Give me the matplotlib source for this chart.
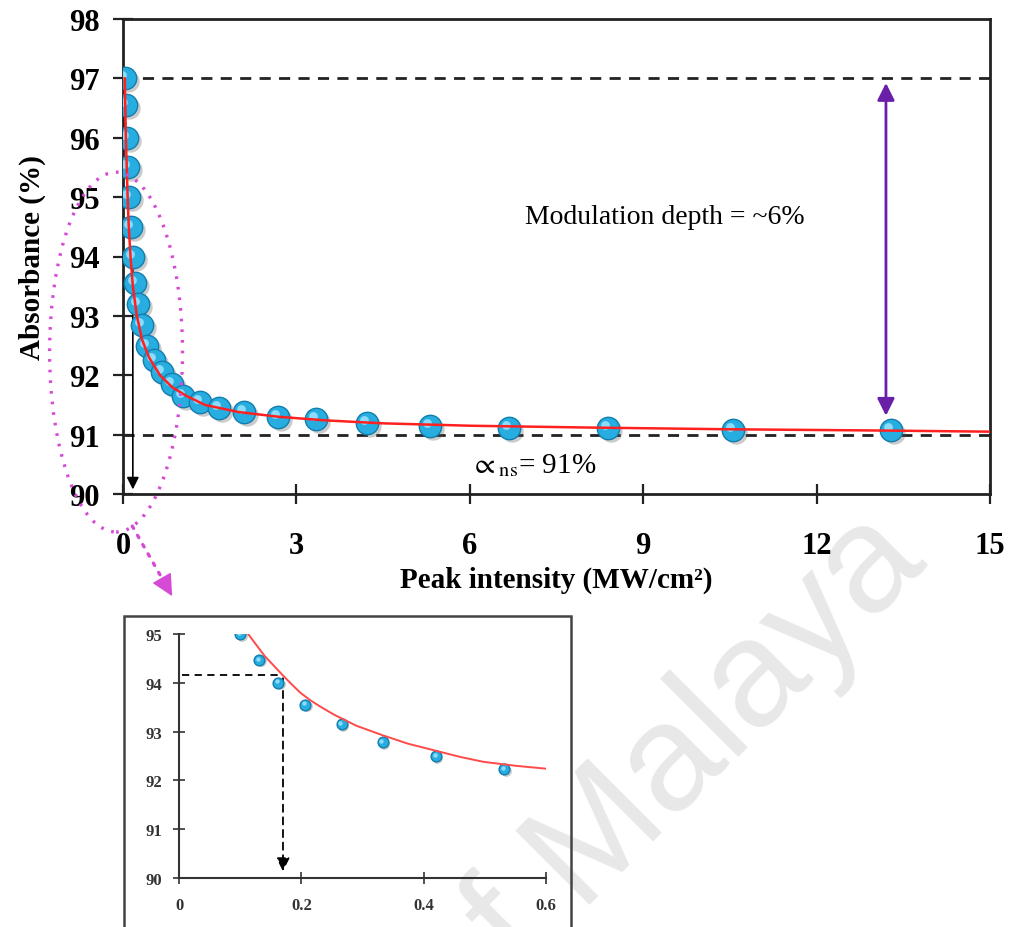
import matplotlib
matplotlib.use("Agg")
import matplotlib.pyplot as plt
from matplotlib.patches import Ellipse, Rectangle
from matplotlib.transforms import offset_copy

plt.rcParams['mathtext.fontset'] = 'stix'

# ---------------- data ----------------
intensity = [0.04, 0.05, 0.063, 0.08, 0.10, 0.13, 0.165, 0.21, 0.265, 0.33, 0.42, 0.53,
             0.67, 0.85, 1.04, 1.33, 1.66, 2.09, 2.68, 3.34, 4.22, 5.31, 6.68, 8.39,
             10.55, 13.29]
absorbance = [97.0, 96.55, 96.0, 95.5, 95.0, 94.5, 94.0, 93.55, 93.2, 92.85, 92.5, 92.25,
              92.05, 91.85, 91.65, 91.55, 91.45, 91.38, 91.3, 91.27, 91.2, 91.15, 91.12, 91.12,
              91.08, 91.07]

fit_x = [0.03, 0.04, 0.05, 0.065, 0.08, 0.10, 0.13, 0.17, 0.24, 0.33, 0.45, 0.64, 0.85,
         1.1, 1.42, 2.0, 2.7, 3.5, 4.5, 6.0, 8.0, 10.5, 13.0, 15.0]
fit_y = [97.0, 96.5, 96.0, 95.5, 95.0, 94.5, 94.0, 93.5, 93.0, 92.6, 92.3, 92.0, 91.8,
         91.65, 91.5, 91.38, 91.3, 91.24, 91.19, 91.15, 91.12, 91.09, 91.07, 91.05]

inset_x = [0.10, 0.131, 0.1625, 0.206, 0.266, 0.333, 0.42, 0.532]
inset_y = [95.0, 94.47, 94.0, 93.55, 93.15, 92.78, 92.5, 92.23]
inset_fit_x = [0.113, 0.125, 0.14, 0.155, 0.17, 0.185, 0.198, 0.215, 0.23, 0.253, 0.29,
               0.334, 0.375, 0.416, 0.46, 0.498, 0.55, 0.6]
inset_fit_y = [95.0, 94.8, 94.55, 94.35, 94.15, 93.96, 93.8, 93.64, 93.52, 93.35, 93.12,
               92.92, 92.75, 92.62, 92.48, 92.38, 92.3, 92.24]

alpha_ns = 91.0
alpha_top = 97.0
I_sat = 0.17
I_sat_level = 94.15

main_xticks = [0, 3, 6, 9, 12, 15]
main_yticks = [90, 91, 92, 93, 94, 95, 96, 97, 98]
inset_xticks = [0, 0.2, 0.4, 0.6]
inset_xticklabels = ['0', '0.2', '0.4', '0.6']
inset_yticks = [90, 91, 92, 93, 94, 95]

# ---------------- figure ----------------
W, H = 1017, 928
fig = plt.figure(figsize=(W / 100, H / 100), dpi=100)

SERIF = ['Liberation Serif', 'DejaVu Serif']

# watermark
fig.text(668 / W, 1 - 772 / H, 'of Malaya', rotation=45, rotation_mode='anchor',
         ha='center', va='center', fontsize=110, color='#e8e8e8',
         family=['Liberation Sans', 'DejaVu Sans'], zorder=-5)


def spheres(ax, x, y, s, shadow_off, hl_off, hl_s):
    sh = offset_copy(ax.transData, fig=fig, x=shadow_off, y=-shadow_off, units='dots')
    ax.scatter(x, y, s=s, color='#555555', alpha=0.3, linewidths=0, transform=sh, zorder=3)
    ax.scatter(x, y, s=s, color='#28ade0', edgecolors='#127eae', linewidths=1.0, zorder=4)
    hl = offset_copy(ax.transData, fig=fig, x=-hl_off, y=hl_off, units='dots')
    ax.scatter(x, y, s=hl_s, color='#9fe4ff', alpha=0.85, linewidths=0, transform=hl, zorder=5)


# ---------------- main axes ----------------
ax = fig.add_axes([123 / W, 1 - 495 / H, 867 / W, 475 / H])
ax.set_facecolor('none')
ax.set_xlim(0, 15)
ax.set_ylim(90, 98)

ax.axhline(alpha_top, color='#222222', lw=2, ls=(0, (4, 3)), zorder=2)
ax.axhline(alpha_ns, color='#222222', lw=2, ls=(0, (4, 3)), zorder=2)

ax.annotate('', xy=(I_sat, 90.03), xytext=(I_sat, 94.0),
            arrowprops=dict(arrowstyle='-|>', color='black', lw=1.2, mutation_scale=18),
            zorder=2)

ax.plot(fit_x, fit_y, color='#ff2020', lw=1.8, zorder=6)
spheres(ax, intensity, absorbance, 260, 3, 3, 40)

ax.annotate('', xy=(13.2, alpha_top - 0.03), xytext=(13.2, 91.27),
            arrowprops=dict(arrowstyle='<|-|>', color='#6a1fa8', lw=2, mutation_scale=26),
            zorder=7)

ax.text(6.95, 94.68, 'Modulation depth = ~6%', fontsize=20, family=SERIF,
        ha='left', va='center')
ax.text(6.0, 90.5, r'$\propto_{\mathrm{ns}}$= 91%', fontsize=21, family=SERIF,
        ha='left', va='center')

for sp in ax.spines.values():
    sp.set_linewidth(2)
    sp.set_color('#222222')

ax.set_xticks(main_xticks)
ax.set_yticks(main_yticks)
ax.tick_params(axis='both', direction='inout', length=14, width=1.6, color='#222222')
ax.tick_params(axis='x', pad=20)
ax.tick_params(axis='y', pad=10)
for lab in ax.get_xticklabels() + ax.get_yticklabels():
    lab.set_fontfamily(SERIF)
    lab.set_fontweight('bold')
    lab.set_fontsize(22)

ax.set_xlabel('Peak intensity (MW/cm²)', fontsize=21, fontweight='bold', family=SERIF,
              labelpad=4)
ax.set_ylabel('Absorbance (%)', fontsize=21, fontweight='bold', family=SERIF, labelpad=16)

# magenta dotted ellipse and arrow
MAG = '#d54bd5'
ell = Ellipse((-0.12, 92.39), 2.30, 6.06, fill=False, edgecolor=MAG, lw=2.4,
              ls=(0, (0.8, 2.4)), clip_on=False, zorder=8)
ax.add_patch(ell)
arr_start = (0.16, 89.46)
arr_end = (0.85, 88.28)
ax.annotate('', xy=arr_end, xytext=arr_start, xycoords='data',
            arrowprops=dict(arrowstyle='-', color=MAG, lw=2.4, ls=(0, (0.8, 2.4)),
                            shrinkA=0, shrinkB=14),
            annotation_clip=False, zorder=8)
ax.annotate('', xy=arr_end,
            xytext=(arr_start[0] + 0.8 * (arr_end[0] - arr_start[0]),
                    arr_start[1] + 0.8 * (arr_end[1] - arr_start[1])),
            xycoords='data',
            arrowprops=dict(arrowstyle='-|>', color=MAG, lw=1, mutation_scale=34,
                            shrinkA=0, shrinkB=0),
            annotation_clip=False, zorder=8)

# ---------------- inset ----------------
fig.add_artist(Rectangle((124 / W, -0.02), (571 - 124) / W, (928 - 617) / H + 0.02,
                         transform=fig.transFigure, fill=False, edgecolor='#444444', lw=1.8,
                         zorder=1))

axi = fig.add_axes([179 / W, 1 - 879 / H, (546 - 179) / W, (879 - 635) / H])
axi.set_facecolor('none')
axi.set_xlim(0, 0.6)
axi.set_ylim(90, 95)
for s in ['top', 'right']:
    axi.spines[s].set_visible(False)
for s in ['left', 'bottom']:
    axi.spines[s].set_linewidth(1.5)
    axi.spines[s].set_color('#333333')

axi.plot([0.005, I_sat], [I_sat_level, I_sat_level], color='black', lw=1.3,
         ls=(0, (4, 3)), zorder=2)
axi.annotate('', xy=(I_sat, 90.08), xytext=(I_sat, I_sat_level),
             arrowprops=dict(arrowstyle='-|>', color='black', lw=1.3, ls=(0, (4, 3)),
                             mutation_scale=20), zorder=2)
axi.plot(inset_fit_x, inset_fit_y, color='#ff4a4a', lw=1.4, zorder=6)
spheres(axi, inset_x, inset_y, 60, 1.5, 1.3, 10)

axi.set_xticks(inset_xticks)
axi.set_xticklabels(inset_xticklabels)
axi.set_yticks(inset_yticks)
axi.tick_params(axis='both', direction='inout', length=8, width=1.2, color='#333333')
axi.tick_params(axis='x', pad=10)
axi.tick_params(axis='y', pad=8)
for lab in axi.get_xticklabels() + axi.get_yticklabels():
    lab.set_fontfamily(SERIF)
    lab.set_fontweight('bold')
    lab.set_fontsize(12)
    lab.set_color('#333333')

fig.savefig('out.png', dpi=100)
